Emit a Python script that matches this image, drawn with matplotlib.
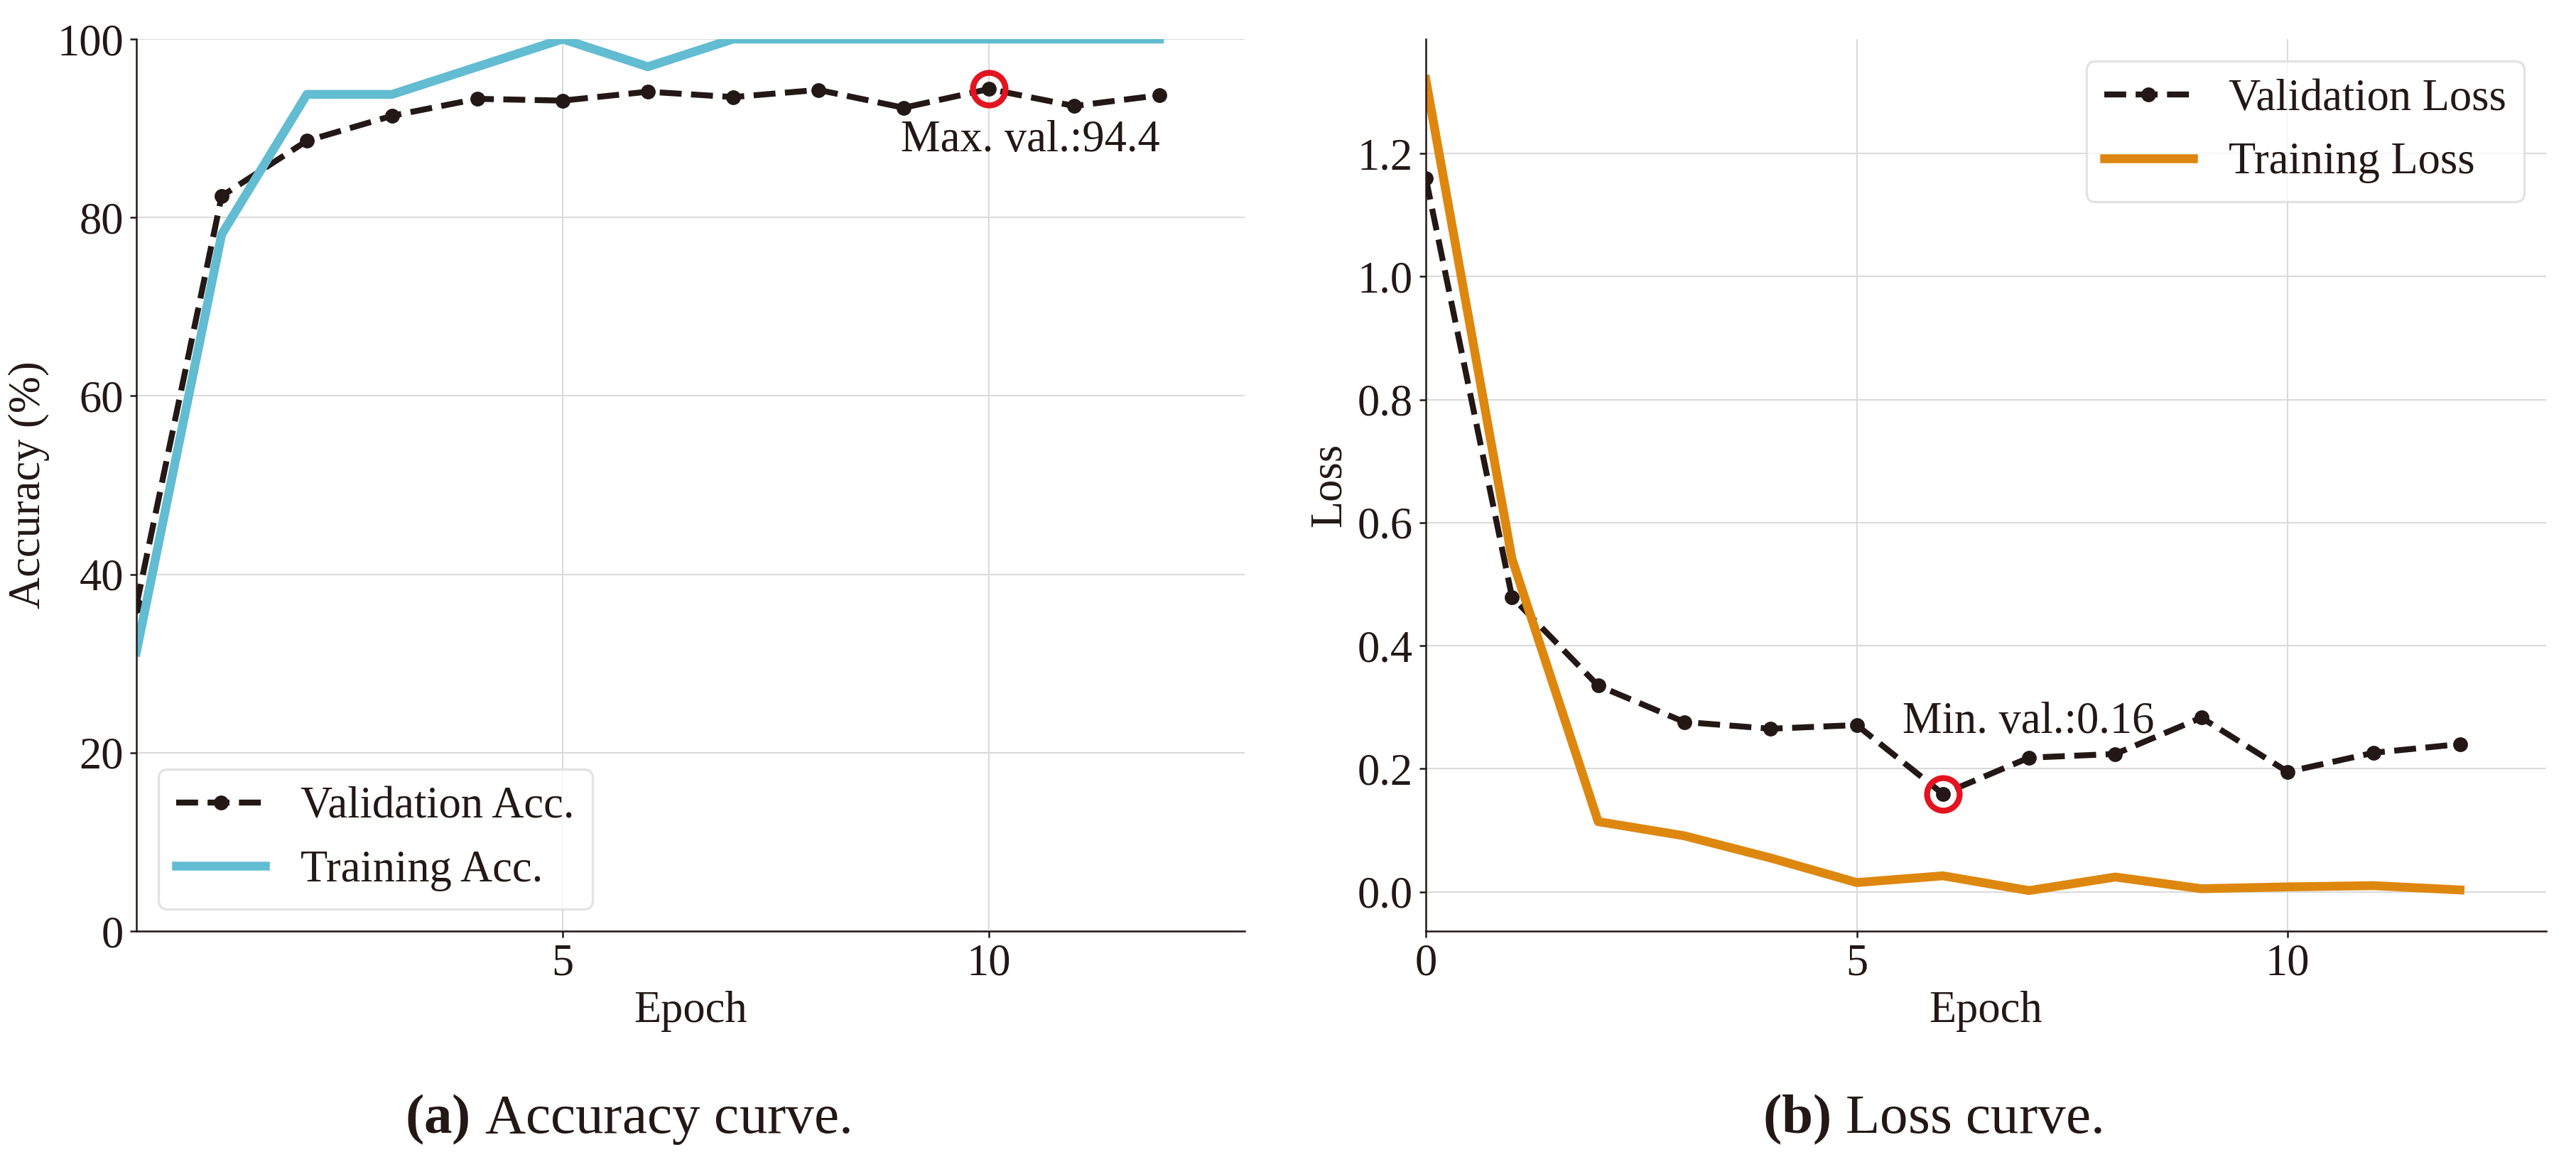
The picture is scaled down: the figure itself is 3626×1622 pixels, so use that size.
import matplotlib
matplotlib.use("Agg")
import matplotlib.pyplot as plt
import numpy as np

# ---- data ----
epochs = list(range(13))
val_acc = [36.5, 82.4, 88.6, 91.4, 93.3, 93.1, 94.1, 93.5, 94.3, 92.3, 94.4, 92.5, 93.7]
train_acc = [31.3, 78.1, 93.8, 93.8, 96.9, 100.0, 96.9, 100.0, 100.0, 100.0, 100.0, 100.0, 100.0]
val_loss = [1.16, 0.479, 0.335, 0.276, 0.265, 0.271, 0.159, 0.218, 0.224, 0.283, 0.195, 0.226, 0.240]
train_loss = [1.320, 0.541, 0.114, 0.091, 0.055, 0.015, 0.026, 0.002, 0.024, 0.005, 0.008, 0.010, 0.003]

acc_labels = ["Validation Acc.", "Training Acc."]
loss_labels = ["Validation Loss", "Training Loss"]
acc_ticks_x = [5, 10]
loss_ticks_x = [0, 5, 10]
acc_ticks_y = [0, 20, 40, 60, 80, 100]
captions = [("(a)", " Accuracy curve."), ("(b)", " Loss curve.")]

TXT = "#231815"
VAL_C = "#231815"
ACC_C = "#62bcd2"
LOSS_C = "#de870f"
RED = "#e3141f"

plt.rcParams.update({
    "font.family": ["Liberation Serif", "DejaVu Serif"],
    "font.size": 15,
    "text.color": TXT,
    "axes.labelcolor": TXT,
    "xtick.color": TXT,
    "ytick.color": TXT,
    "axes.edgecolor": TXT,
    "mathtext.fontset": "custom",
    "mathtext.rm": "Liberation Serif",
    "mathtext.bf": "Liberation Serif:bold",
})

fig = plt.figure(figsize=(3626 / 300, 1622 / 300), dpi=300)
ax1 = fig.add_axes([192 / 3626, 1 - 1311 / 1622, (1752 - 192) / 3626, (1311 - 55) / 1622])
ax2 = fig.add_axes([2007 / 3626, 1 - 1311 / 1622, (3584 - 2007) / 3626, (1311 - 55) / 1622])


def style(ax):
    ax.set_axisbelow(True)
    ax.grid(True, color="#dadada", lw=0.5)
    for s in ["top", "right"]:
        ax.spines[s].set_visible(False)
    for s in ["left", "bottom"]:
        ax.spines[s].set_linewidth(0.6)
    ax.tick_params(length=2.1, width=0.6, pad=2.2, labelsize=15)
    ax.set_xlim(0, 13)


# ---- accuracy ----
ax1.plot(epochs, val_acc, ls="--", lw=2.0, color=VAL_C, marker="o", ms=4, label=acc_labels[0])
ax1.plot(epochs, train_acc, ls="-", lw=3.0, color=ACC_C, label=acc_labels[1])
imax = int(np.argmax(val_acc))
ax1.plot(epochs[imax], val_acc[imax], marker="o", ms=11, mfc="none", mec=RED, mew=2, zorder=5)
ax1.text(10.49, 87.4, f"Max. val.:{val_acc[imax]:.1f}", ha="center", va="baseline", fontsize=15)
style(ax1)
ax1.set_ylim(0, 100)
ax1.set_xticks(acc_ticks_x)
ax1.set_yticks(acc_ticks_y)
ax1.set_xlabel("Epoch", labelpad=2)
ax1.set_ylabel("Accuracy (%)", labelpad=2.5)
leg1 = ax1.legend(loc="lower left", fontsize=15, frameon=True, fancybox=True)
leg1.get_frame().set_edgecolor("#dcdcdc")
leg1.get_frame().set_linewidth(0.8)

# ---- loss ----
ax2.plot(epochs, val_loss, ls="--", lw=2.0, color=VAL_C, marker="o", ms=4, label=loss_labels[0])
ax2.plot(epochs, train_loss, ls="-", lw=3.0, color=LOSS_C, label=loss_labels[1])
imin = int(np.argmin(val_loss))
ax2.plot(epochs[imin], val_loss[imin], marker="o", ms=11, mfc="none", mec=RED, mew=2, zorder=5)
ax2.text(6.99, 0.258, f"Min. val.:{val_loss[imin]:.2f}", ha="center", va="baseline", fontsize=15)
style(ax2)
ax2.set_xticks(loss_ticks_x)
ax2.set_xlabel("Epoch", labelpad=2)
ax2.set_ylabel("Loss", labelpad=2.5)
leg2 = ax2.legend(loc="upper right", fontsize=15, frameon=True, fancybox=True)
leg2.get_frame().set_edgecolor("#dcdcdc")
leg2.get_frame().set_linewidth(0.8)

# ---- captions ----
for (tag, rest), xc in zip(captions, [884 / 3626, 2720 / 3626]):
    fig.text(xc, 1 - 1595 / 1622, r"$\mathbf{" + tag + "}$" + rest,
             ha="center", va="baseline", fontsize=19)

fig.savefig("out.png", dpi=300)
